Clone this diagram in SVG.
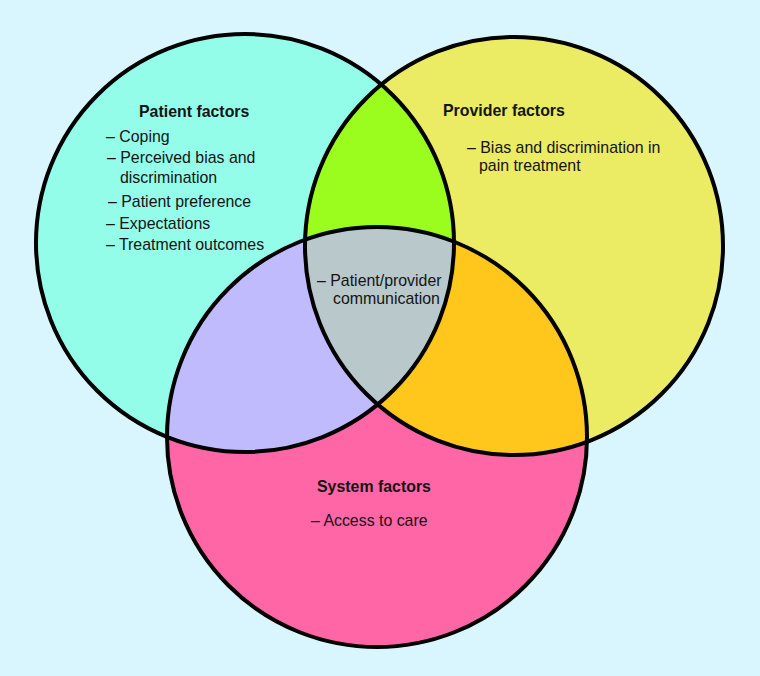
<svg xmlns="http://www.w3.org/2000/svg" width="760" height="676" viewBox="0 0 760 676">
<style>
.ring{fill:none;stroke:#000;stroke-width:4}
.t{font-family:"Liberation Sans",Arial,sans-serif;font-size:15.9px;fill:#141414}
.h{font-weight:bold}
</style>
<defs>
<clipPath id="cA"><circle cx="245" cy="243" r="209"/></clipPath>
<clipPath id="cB"><circle cx="514" cy="246" r="209"/></clipPath>
<clipPath id="cC"><circle cx="377" cy="437" r="210"/></clipPath>
</defs>
<rect x="0" y="0" width="760" height="676" fill="#d9f5fd"/>
<g id="fills">
<circle cx="245" cy="243" r="209" fill="#94fdea"/>
<circle cx="514" cy="246" r="209" fill="#ebeb64"/>
<circle cx="377" cy="437" r="210" fill="#ff66a6"/>
<g clip-path="url(#cA)"><circle cx="514" cy="246" r="209" fill="#9bfd1d"/></g>
<g clip-path="url(#cA)"><circle cx="377" cy="437" r="210" fill="#c0bbfc"/></g>
<g clip-path="url(#cB)"><circle cx="377" cy="437" r="210" fill="#ffc61c"/></g>
<g clip-path="url(#cA)"><g clip-path="url(#cB)"><circle cx="377" cy="437" r="210" fill="#b8c8cb"/></g></g>
</g>
<g id="patient">
<circle class="ring" cx="245" cy="243" r="209"/>
<text class="t h" x="139" y="117">Patient factors</text>
<text class="t" x="106" y="142">– Coping</text>
<text class="t" x="107" y="163">– Perceived bias and</text>
<text class="t" x="120" y="183">discrimination</text>
<text class="t" x="108" y="207">– Patient preference</text>
<text class="t" x="106" y="229">– Expectations</text>
<text class="t" x="106" y="250">– Treatment outcomes</text>
</g>
<g id="provider">
<circle class="ring" cx="514" cy="246" r="209"/>
<text class="t h" x="443" y="116">Provider factors</text>
<text class="t" x="467" y="153">– Bias and discrimination in</text>
<text class="t" x="479" y="171">pain treatment</text>
</g>
<g id="system">
<circle class="ring" cx="377" cy="437" r="210"/>
<text class="t h" x="317" y="492">System factors</text>
<text class="t" x="311" y="526">– Access to care</text>
</g>
<g id="shared">
<text class="t" x="317" y="286">– Patient/provider</text>
<text class="t" x="333" y="304">communication</text>
</g>
</svg>
